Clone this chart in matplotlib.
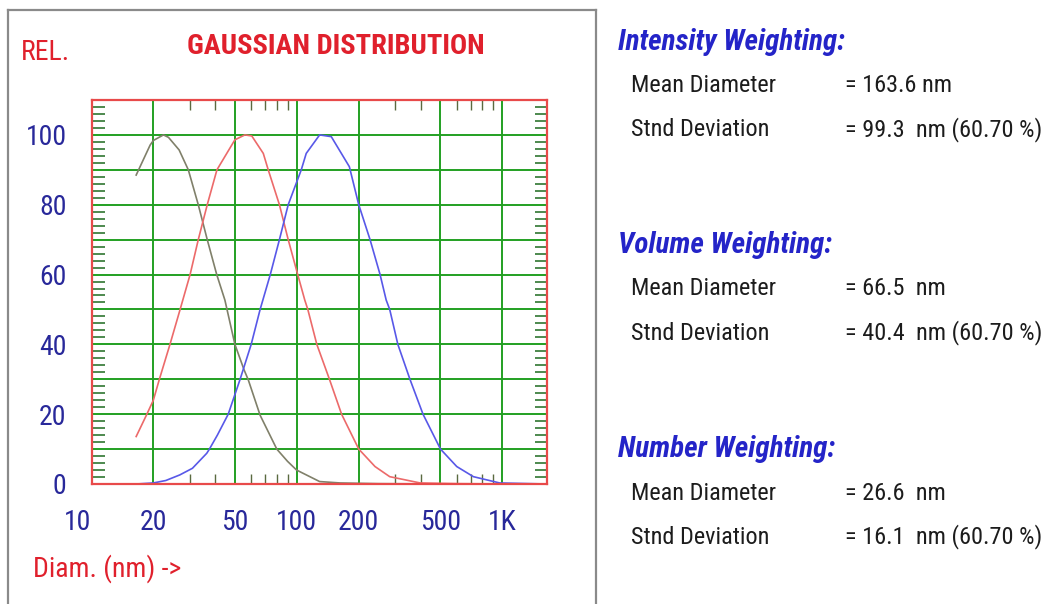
import numpy as np
import matplotlib
matplotlib.use("Agg")
import matplotlib.pyplot as plt
from matplotlib.lines import Line2D

# ---- data ----
num_d = [16.5, 19.3, 20, 22.4, 23.7, 26.7, 29.6, 33.1, 36.6, 40.7, 44.6, 49.9,
         55.3, 58, 66.2, 79.8, 90, 99.6, 129, 162, 250, 500, 1000, 1650]
num_v = [88.5, 97.1, 98.4, 100, 99.3, 95.7, 90, 80, 70, 60, 52.7, 40,
         32.7, 29.8, 19.7, 10, 6.5, 4, 0.7, 0.3, 0.1, 0, 0, 0]

vol_d = [16.5, 18.5, 20, 21.4, 24.1, 27.0, 30.2, 33.1, 36.6, 40.8, 49.9, 55.8,
         60.3, 68.6, 72.5, 82.2, 90.7, 100.9, 109.2, 113, 125, 144, 165, 200,
         240, 283, 398, 600, 1000, 1650]
vol_v = [13.6, 19.7, 24, 30, 40, 50, 60, 70, 80, 90, 98.6, 100,
         99.7, 94.7, 90, 80, 70, 60, 52.7, 50, 40, 30, 20, 10,
         5, 2.1, 0.3, 0.1, 0, 0]

int_d = [16.5, 20, 23, 26.9, 31, 36.4, 37.5, 41, 46.3, 52.9, 59.9, 66.2, 74.2,
         82.2, 90.7, 105, 111, 129, 147, 180, 200, 227, 254, 272, 283, 310, 355,
         411, 500, 600, 723, 970, 1650]
int_v = [0, 0.3, 1.0, 2.6, 4.5, 8.8, 10, 14, 20, 30, 40, 50, 60,
         70, 80, 90, 94.7, 100, 99.5, 90.9, 80, 70, 60, 52.7, 50, 40, 30,
         20, 10, 5, 2.1, 0.3, 0]

x_major = [10, 20, 50, 100, 200, 500, 1000]
x_labels = ["10", "20", "50", "100", "200", "500", "1K"]
x_minor = [30, 40, 60, 70, 80, 90, 300, 400, 600, 700, 800, 900]
y_major = [0, 20, 40, 60, 80, 100]
y_grid = [10, 20, 30, 40, 50, 60, 70, 80, 90, 100]
y_minor = [v for v in range(2, 110, 2) if v % 10]

weightings = ["Intensity Weighting:", "Volume Weighting:", "Number Weighting:"]
means = ["= 163.6 nm", "= 66.5  nm", "= 26.6  nm"]
stds = ["= 99.3  nm (60.70 %)", "= 40.4  nm (60.70 %)", "= 16.1  nm (60.70 %)"]

plt.rcParams["font.family"] = ["Roboto Condensed", "Liberation Sans", "DejaVu Sans"]

W, H = 1048, 604
def fx(px): return px / W
def fy(py): return 1 - py / H

RED = "#e0202c"
NAVY = "#28289a"
GREEN = "#22a022"

fig = plt.figure(figsize=(W / 100, H / 100), dpi=100)
ax = fig.add_axes([fx(91.5), fy(484), fx(547) - fx(91.5), fy(100) - fy(484)])

ax.plot(num_d, num_v, color="#80806a", lw=1.2, zorder=3)
ax.plot(vol_d, vol_v, color="#ec6a6a", lw=1.2, zorder=3)
ax.plot(int_d, int_v, color="#5858e8", lw=1.2, zorder=3)

ax.set_xscale("log")
ax.set_xlim(10, 1650)
ax.set_ylim(0, 110)

for g in x_major[1:]:
    ax.axvline(g, color=GREEN, lw=1.4, zorder=1)
for g in y_grid:
    ax.axhline(g, color=GREEN, lw=1.4, zorder=1)

ax.set_xticks(x_major)
ax.set_xticklabels(x_labels)
ax.set_xticks(x_minor, minor=True)
ax.xaxis.set_minor_formatter(plt.NullFormatter())
ax.set_yticks(y_major)
ax.set_yticks(y_minor, minor=True)

ax.tick_params(axis="both", which="major", length=0, labelsize=20,
               labelcolor=NAVY)
ax.tick_params(axis="x", which="major", pad=18)
ax.tick_params(axis="y", which="major", pad=18)
ax.tick_params(axis="x", which="minor", direction="in", top=True, bottom=True,
               length=7, width=1.0, color="#5a6a40")
ax.tick_params(axis="y", which="minor", direction="in", left=True, right=True,
               length=9, width=1.3, color="#3f8040")
ax.get_xticklabels()[0].set_horizontalalignment("right")

for s in ax.spines.values():
    s.set_color("#e84a4a")
    s.set_linewidth(1.6)
    s.set_zorder(4)

# outer frame of the left panel
for xs, ys in [((8, 8), (10, 604)), ((8, 596), (10, 10)), ((596, 596), (10, 604))]:
    fig.add_artist(Line2D([fx(x) for x in xs], [fy(y) for y in ys],
                          color="#8a8a8a", lw=1.6))

fig.text(fx(21), fy(52), "REL.", color=RED, fontsize=20, va="center", ha="left")
fig.text(fx(336), fy(47), "GAUSSIAN DISTRIBUTION", color=RED, fontsize=20.5,
         fontweight="bold", va="center", ha="center")
fig.text(fx(33), fy(569), "Diam. (nm) ->", color=RED, fontsize=20,
         va="center", ha="left")

# ---- right panel text ----
head_y = [42, 245, 449]
for i in range(3):
    y0 = head_y[i]
    fig.text(fx(618), fy(y0), weightings[i], color="#2424c8", fontsize=21,
             fontweight="bold", fontstyle="italic", va="center", ha="left")
    fig.text(fx(631), fy(y0 + 44), "Mean Diameter", color="#1c1c1c",
             fontsize=17.5, va="center", ha="left")
    fig.text(fx(845), fy(y0 + 44), means[i], color="#1c1c1c",
             fontsize=17.5, va="center", ha="left")
    fig.text(fx(631), fy(y0 + 88), "Stnd Deviation", color="#1c1c1c",
             fontsize=17.5, va="center", ha="left")
    fig.text(fx(845), fy(y0 + 88), stds[i], color="#1c1c1c",
             fontsize=17.5, va="center", ha="left")

fig.savefig("out.png", dpi=100)
